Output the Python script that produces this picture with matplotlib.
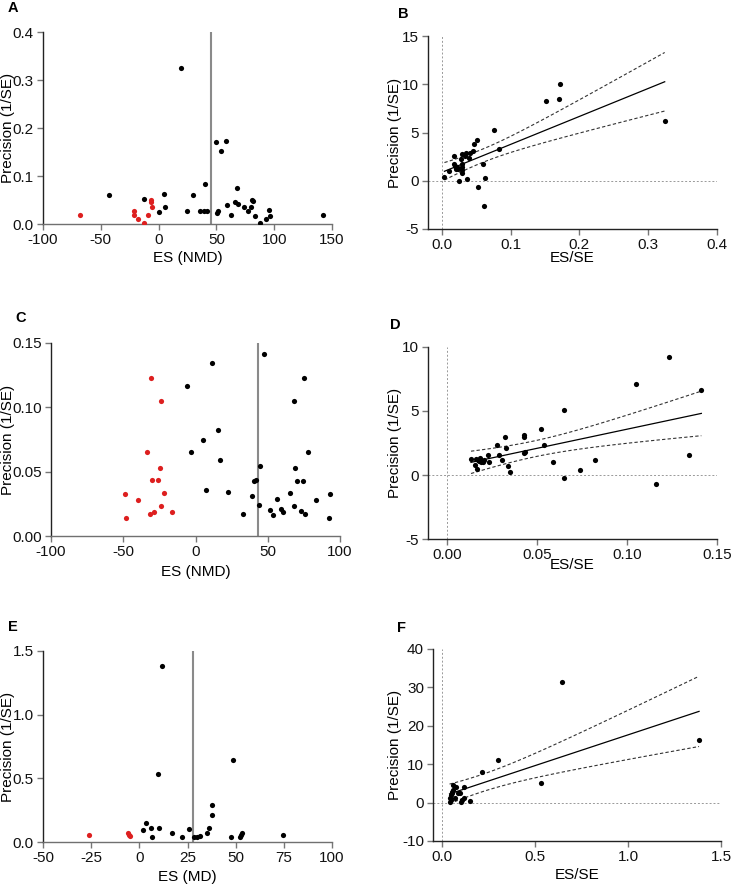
import numpy as np
import matplotlib
matplotlib.use("Agg")
import matplotlib.pyplot as plt

plt.rcParams['font.family'] = ['Liberation Sans', 'DejaVu Sans']
plt.rcParams['axes.unicode_minus'] = False

# ---------------- Data ----------------
# Panel A: funnel plot (ES NMD vs precision)
a_black_x = [-42.8, -12.4, 4.9, 0.3, 5.8, 19.1, 24.3, 29.5, 36.1, 39.3, 39.9, 42.2, 49.7, 50.3, 51.7,
             53.8, 58.1, 59.0, 62.4, 66.5, 67.9, 69.1, 74.3, 77.5, 80.3, 80.9, 81.5, 83.8, 87.6, 92.8,
             95.7, 96.0, 142.2]
a_black_y = [0.061, 0.053, 0.063, 0.026, 0.036, 0.325, 0.028, 0.060, 0.028, 0.028, 0.083, 0.028, 0.171,
             0.022, 0.028, 0.152, 0.173, 0.040, 0.018, 0.046, 0.076, 0.042, 0.035, 0.028, 0.035, 0.051,
             0.047, 0.017, 0.003, 0.010, 0.029, 0.017, 0.018]
a_red_x = [-67.9, -21.7, -21.1, -17.9, -13.0, -9.5, -6.9, -6.9, -5.8]
a_red_y = [0.018, 0.028, 0.018, 0.010, 0.003, 0.018, 0.049, 0.045, 0.035]
a_mean = 45.0

# Panel B: regression (ES/SE vs precision)
b_x = [0.0039, 0.0102, 0.018, 0.018, 0.019, 0.020, 0.022, 0.023, 0.025, 0.028, 0.029, 0.029, 0.029,
       0.029, 0.029, 0.034, 0.035, 0.036, 0.040, 0.041, 0.046, 0.047, 0.051, 0.053, 0.060, 0.061,
       0.063, 0.076, 0.083, 0.152, 0.171, 0.172, 0.324]
b_y = [0.34, 1.0, 2.6, 1.75, 1.48, 1.17, 1.42, 1.17, 0.0, 2.24, 2.73, 1.69, 1.07, 0.79, 1.42, 2.59,
       2.83, 0.21, 2.38, 2.87, 3.04, 3.80, 4.18, -0.66, 1.76, -2.63, 0.31, 5.22, 3.32, 8.22, 8.50,
       10.05, 6.18]

# Panel C
c_red_x = [-49.0, -48.3, -39.7, -33.7, -31.6, -30.7, -30.0, -28.9, -25.9, -24.7, -24.0, -24.0, -21.5, -16.2]
c_red_y = [0.0326, 0.0140, 0.0282, 0.0653, 0.0171, 0.1231, 0.0433, 0.0189, 0.0433, 0.0526, 0.1049,
           0.0233, 0.0332, 0.0184]
c_black_x = [-6.0, -3.0, 5.3, 7.6, 11.5, 15.5, 17.3, 22.2, 32.6, 39.3, 40.6, 42.0, 43.6, 44.3, 47.1,
             51.7, 53.8, 56.1, 58.9, 60.5, 65.4, 68.1, 68.1, 69.1, 70.0, 73.0, 74.4, 75.1, 75.8, 77.6,
             83.6, 92.6, 93.3]
c_black_y = [0.1163, 0.0650, 0.0744, 0.0355, 0.1345, 0.0824, 0.0593, 0.0345, 0.0171, 0.0308, 0.0430,
             0.0435, 0.0241, 0.0544, 0.1415, 0.0202, 0.0161, 0.0290, 0.0210, 0.0184, 0.0332, 0.0233,
             0.1049, 0.0528, 0.0430, 0.0192, 0.0430, 0.1231, 0.0171, 0.0650, 0.0282, 0.0137, 0.0324]
c_mean = 43.2

# Panel D
d_x = [0.0133, 0.0156, 0.0161, 0.0167, 0.0172, 0.0178, 0.0183, 0.0191, 0.0198, 0.0206, 0.0230, 0.0235,
       0.0278, 0.0287, 0.0304, 0.0322, 0.0328, 0.0341, 0.0350, 0.0428, 0.0428, 0.0428, 0.0431, 0.0524,
       0.0541, 0.0591, 0.0650, 0.0648, 0.0741, 0.0820, 0.1048, 0.1163, 0.1233, 0.1346, 0.1413]
d_y = [1.23, 0.81, 1.23, 0.50, 1.17, 1.07, 1.36, 1.02, 1.04, 1.15, 1.54, 0.99, 2.32, 1.59, 1.17, 2.95,
       2.11, 0.73, 0.23, 3.16, 3.00, 1.72, 1.77, 3.60, 2.35, 0.99, 5.04, -0.23, 0.37, 1.20, 7.12, -0.73,
       9.24, 1.57, 6.65]

# Panel E
e_red_x = [-26.2, -5.9, -5.2, -4.9]
e_red_y = [0.057, 0.073, 0.057, 0.050]
e_black_x = [1.9, 3.6, 5.9, 6.4, 9.7, 10.4, 11.8, 17.2, 22.2, 25.8, 28.6, 29.7, 31.4, 35.0, 36.1, 37.6,
             37.6, 47.5, 48.6, 52.0, 52.7, 53.4, 74.4]
e_black_y = [0.097, 0.149, 0.107, 0.039, 0.532, 0.112, 1.380, 0.070, 0.039, 0.099, 0.042, 0.042, 0.050,
             0.073, 0.112, 0.214, 0.292, 0.042, 0.644, 0.042, 0.052, 0.068, 0.057]
e_mean = 27.8

# Panel F
f_x = [0.041, 0.043, 0.047, 0.047, 0.052, 0.056, 0.059, 0.061, 0.070, 0.075, 0.084, 0.099, 0.102, 0.109,
       0.118, 0.118, 0.152, 0.217, 0.299, 0.534, 0.647, 1.382]
f_y = [1.21, 0.17, 0.78, 1.91, 2.43, 2.77, 3.38, 4.51, 1.30, 3.99, 2.60, 2.60, 0.09, 0.78, 4.07, 1.21,
       0.52, 8.06, 11.18, 5.03, 31.28, 16.29]

RED = '#dd1f1f'
GREY = '#8a8a8a'
TICKGREY = '#777777'
FS = 11
MS = 14

fig = plt.figure(figsize=(7.31, 8.86), dpi=100)
W, H = 731.0, 886.0


def add_ax(left, top, right, bottom):
    return fig.add_axes([left / W, 1 - bottom / H, (right - left) / W, (bottom - top) / H])


def style(ax, bottom_color='#222222'):
    for s in ('top', 'right'):
        ax.spines[s].set_visible(False)
    ax.spines['left'].set_linewidth(1.0)
    ax.spines['left'].set_color('#222222')
    ax.spines['bottom'].set_linewidth(1.0)
    ax.spines['bottom'].set_color(bottom_color)
    ax.tick_params(direction='out', length=4.5, width=1.0, labelsize=FS, color=TICKGREY,
                   labelcolor='#111111', pad=2)


def labels(ax, xlabel, xl_y, yl_x):
    ax.set_xlabel(xlabel, fontsize=FS, va='center')
    ax.set_ylabel('Precision (1/SE)', fontsize=FS)
    ax.xaxis.set_label_coords(0.5, xl_y)
    ax.yaxis.set_label_coords(yl_x, 0.5)


def funnel(ax, bx, by, rx, ry, mean, xlim, xticks, ylim, yticks, yfmt):
    style(ax, bottom_color='#707070')
    ax.scatter(bx, by, s=MS, color='black', zorder=3, linewidths=0)
    ax.scatter(rx, ry, s=MS, color=RED, zorder=3, linewidths=0)
    ax.plot([mean, mean], [ylim[0], ylim[1]], color=GREY, lw=1.5, zorder=2)
    ax.set_xlim(*xlim)
    ax.set_ylim(*ylim)
    ax.set_xticks(xticks)
    ax.set_yticks(yticks)
    ax.set_yticklabels([yfmt.format(v) for v in yticks])


def regress(ax, x, y, xlim, xticks, xfmt, ylim, yticks):
    style(ax)
    x = np.asarray(x)
    y = np.asarray(y)
    ax.axhline(0, color='#999999', lw=0.7, ls=(0, (2, 2)), zorder=1)
    ax.axvline(0, color='#999999', lw=0.7, ls=(0, (2, 2)), zorder=1)
    ax.scatter(x, y, s=MS, color='black', zorder=3, linewidths=0)
    n = len(x)
    slope, intercept = np.polyfit(x, y, 1)
    xs = np.linspace(x.min(), x.max(), 100)
    fit = intercept + slope * xs
    resid = y - (intercept + slope * x)
    s = np.sqrt(np.sum(resid ** 2) / (n - 2))
    sxx = np.sum((x - x.mean()) ** 2)
    tcrit = 2.04
    half = tcrit * s * np.sqrt(1.0 / n + (xs - x.mean()) ** 2 / sxx)
    ax.plot(xs, fit, color='black', lw=0.9, zorder=2)
    ax.plot(xs, fit + half, color='#333333', lw=0.8, ls=(0, (3, 2)), zorder=2)
    ax.plot(xs, fit - half, color='#333333', lw=0.8, ls=(0, (3, 2)), zorder=2)
    ax.set_xlim(*xlim)
    ax.set_ylim(*ylim)
    ax.set_xticks(xticks)
    ax.set_xticklabels([xfmt.format(v) for v in xticks])
    ax.set_yticks(yticks)


# A
axA = add_ax(43, 32, 332, 224)
funnel(axA, a_black_x, a_black_y, a_red_x, a_red_y, a_mean, (-100, 150), [-100, -50, 0, 50, 100, 150],
       (0, 0.4), [0.0, 0.1, 0.2, 0.3, 0.4], '{:.1f}')
labels(axA, 'ES (NMD)', -0.177, -0.098)

# B
axB = add_ax(428, 36, 717, 229)
regress(axB, b_x, b_y, (-0.02, 0.4), [0.0, 0.1, 0.2, 0.3, 0.4], '{:.1f}', (-5, 15), [-5, 0, 5, 10, 15])
labels(axB, 'ES/SE', -0.15, -0.09)

# C
axC = add_ax(51, 343, 340, 536)
funnel(axC, c_black_x, c_black_y, c_red_x, c_red_y, c_mean, (-100, 100), [-100, -50, 0, 50, 100],
       (0, 0.15), [0.0, 0.05, 0.10, 0.15], '{:.2f}')
labels(axC, 'ES (NMD)', -0.185, -0.125)

# D
axD = add_ax(428, 347, 717, 539)
regress(axD, d_x, d_y, (-0.0106, 0.15), [0.0, 0.05, 0.10, 0.15], '{:.2f}', (-5, 10), [-5, 0, 5, 10])
labels(axD, 'ES/SE', -0.135, -0.09)

# E
axE = add_ax(43, 651, 332, 842)
funnel(axE, e_black_x, e_black_y, e_red_x, e_red_y, e_mean, (-50, 100), [-50, -25, 0, 25, 50, 75, 100],
       (0, 1.5), [0.0, 0.5, 1.0, 1.5], '{:.1f}')
labels(axE, 'ES (MD)', -0.185, -0.098)

# F
axF = add_ax(433, 649, 721, 841)
regress(axF, f_x, f_y, (-0.048, 1.5), [0.0, 0.5, 1.0, 1.5], '{:.1f}', (-10, 40), [-10, 0, 10, 20, 30, 40])
labels(axF, 'ES/SE', -0.177, -0.108)

# Panel letters
for lab, (px, py) in {'A': (13, 8), 'B': (403, 14), 'C': (21, 318), 'D': (395, 325),
                      'E': (13, 627), 'F': (402, 628)}.items():
    fig.text(px / W, 1 - py / H, lab, fontsize=10.5, fontweight='bold', ha='center', va='center')

fig.savefig('out.png', dpi=100)
